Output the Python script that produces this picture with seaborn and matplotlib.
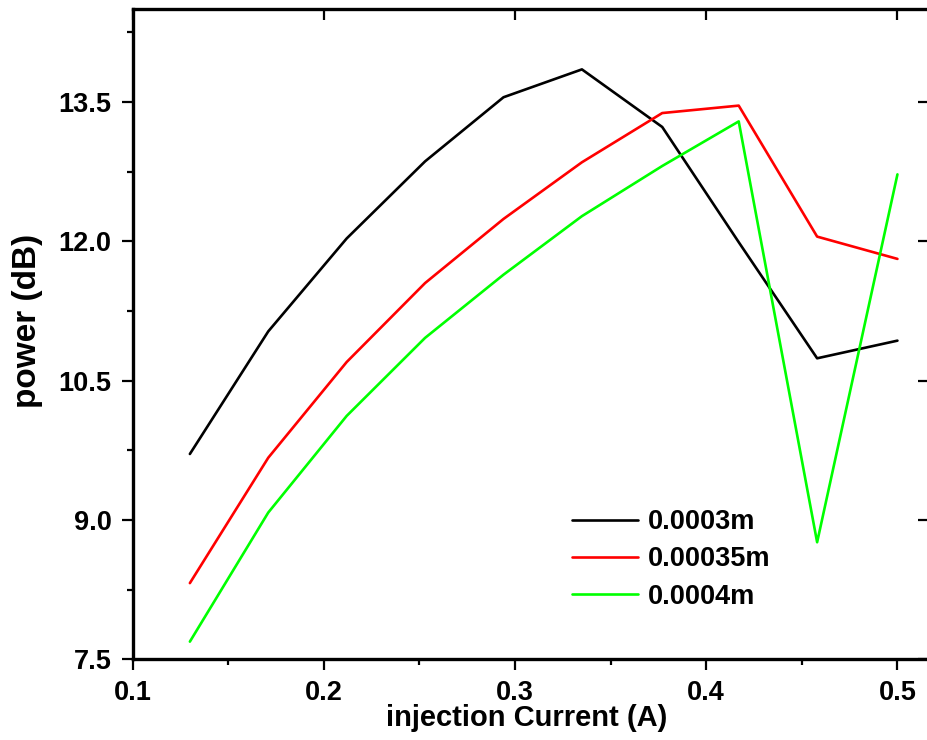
import pandas as pd
import matplotlib
matplotlib.use('Agg')
import matplotlib.pyplot as plt
import seaborn as sns
from matplotlib.ticker import MultipleLocator

# 데이터
current = [0.130, 0.171, 0.212, 0.253, 0.294, 0.335, 0.377, 0.417, 0.458, 0.500]
power_03 = [9.71, 11.03, 12.03, 12.86, 13.55, 13.85, 13.23, 11.99, 10.74, 10.93]
power_035 = [8.32, 9.67, 10.70, 11.55, 12.24, 12.85, 13.38, 13.46, 12.05, 11.81]
power_04 = [7.69, 9.08, 10.12, 10.96, 11.64, 12.27, 12.81, 13.29, 8.76, 12.72]
series_names = ['0.0003m', '0.00035m', '0.0004m']
colors = ['#000000', '#ff0000', '#00ff00']

df = pd.concat([
    pd.DataFrame({'current': current, 'power': p, 'length': name})
    for p, name in zip([power_03, power_035, power_04], series_names)
])

sns.set_style('ticks')
plt.rcParams['font.family'] = ['Liberation Sans', 'DejaVu Sans']
plt.rcParams['font.weight'] = 'bold'
plt.rcParams['text.color'] = 'black'
plt.rcParams['axes.labelcolor'] = 'black'
plt.rcParams['xtick.color'] = 'black'
plt.rcParams['ytick.color'] = 'black'

fig = plt.figure(figsize=(9.27, 7.4), dpi=100)
ax = fig.add_axes([132.5 / 927, 1 - 659.3 / 740, (929 - 132.5) / 927, (659.3 - 9) / 740])

sns.lineplot(data=df, x='current', y='power', hue='length', palette=colors,
             linewidth=1.9, ax=ax, sort=False)

ax.set_xlim(0.1, 0.5165)
ax.set_ylim(7.5, 14.5)
ax.xaxis.set_minor_locator(MultipleLocator(0.05))
ax.yaxis.set_minor_locator(MultipleLocator(0.75))
ax.set_yticks([7.5, 9.0, 10.5, 12.0, 13.5])
ax.set_yticklabels(['7.5', '9.0', '10.5', '12.0', '13.5'])
ax.set_xticks([0.1, 0.2, 0.3, 0.4, 0.5])
ax.set_xticklabels(['0.1', '0.2', '0.3', '0.4', '0.5'])

for s in ax.spines.values():
    s.set_linewidth(2.4)
    s.set_color('black')

ax.tick_params(axis='both', which='major', labelsize=19.5, width=1.6, length=8, pad=7)
ax.tick_params(axis='both', which='minor', width=1.6, length=4)
ax.tick_params(axis='x', which='both', top=True, bottom=True)
ax.tick_params(axis='y', which='both', left=True, right=True)
# 위/오른쪽 눈금은 안쪽으로
for t in ax.xaxis.get_major_ticks():
    t.tick2line.set_marker(3)
for t in ax.yaxis.get_major_ticks():
    t.tick2line.set_marker(0)
ax.tick_params(axis='x', which='minor', top=False)
ax.tick_params(axis='y', which='minor', right=False)

ax.set_xlabel('injection Current (A)', fontsize=21, fontweight='bold')
ax.set_ylabel('power (dB)', fontsize=24, fontweight='bold')
ax.xaxis.set_label_coords(0.4953, -0.0687)
ax.yaxis.set_label_coords(-0.112, 0.52)

ax.legend(frameon=False, handlelength=2.44, handletextpad=0.36,
          labelspacing=0.42, borderpad=0, borderaxespad=0, loc='upper left',
          bbox_to_anchor=(571.7 / 927, 1 - 509 / 740), bbox_transform=fig.transFigure,
          prop={'weight': 'bold', 'size': 19.5})

fig.savefig('out.png', dpi=100)
